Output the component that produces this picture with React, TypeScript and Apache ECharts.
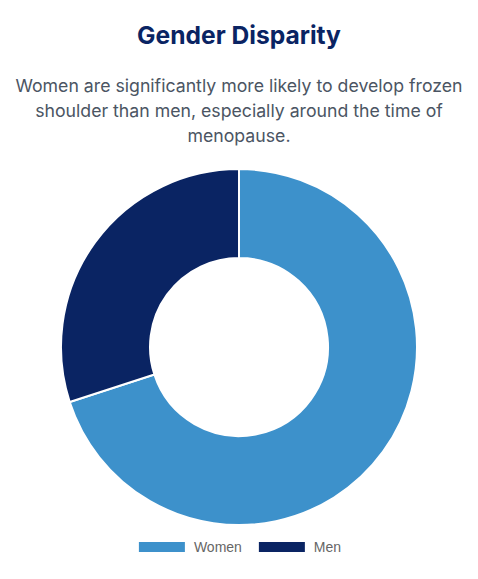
import { useEffect, useRef } from 'react';
import * as echarts from 'echarts';

// 数据
const categories = ['Women', 'Men'];
const values = [70, 30];
const colors = ['#3d91cb', '#0a2463'];

const titleText = 'Gender Disparity';
const subtitleLines = [
  'Women are significantly more likely to develop frozen',
  'shoulder than men, especially around the time of',
  'menopause.',
];

export default function App() {
  const chartRef = useRef<HTMLDivElement>(null);

  useEffect(() => {
    if (!chartRef.current) return;
    const chart = echarts.init(chartRef.current, undefined, { renderer: 'svg' });

    const option: echarts.EChartsOption = {
      animation: false,
      backgroundColor: '#ffffff',
      title: {
        text: titleText,
        left: 'center',
        top: 17,
        textStyle: {
          fontFamily: 'Inter',
          fontSize: 24.6,
          fontWeight: 700,
          color: '#0a2463',
        },
      },
      graphic: subtitleLines.map((line, i) => ({
        type: 'text',
        x: 239,
        y: 85 + i * 25,
        style: {
          text: line,
          fontFamily: 'Inter',
          fontSize: 17.7,
          fill: '#4b5563',
          textAlign: 'center',
          textVerticalAlign: 'middle',
        },
      })),
      legend: {
        bottom: 20,
        left: 'center',
        itemWidth: 48,
        itemHeight: 12,
        itemGap: 15,
        icon: 'rect',
        textStyle: {
          fontFamily: 'Liberation Sans, Arial, sans-serif',
          fontSize: 14,
          color: '#666666',
          padding: [0, 0, 0, 3],
        },
        data: categories,
      },
      series: [
        {
          type: 'pie',
          center: [239, 347],
          radius: [89, 178],
          startAngle: 90,
          clockwise: true,
          label: { show: false },
          labelLine: { show: false },
          itemStyle: {
            borderColor: '#ffffff',
            borderWidth: 2,
          },
          emphasis: { disabled: true },
          data: categories.map((name, i) => ({
            name,
            value: values[i],
            itemStyle: { color: colors[i] },
          })),
        },
      ],
    };

    chart.setOption(option);

    return () => {
      chart.dispose();
    };
  }, []);

  return (
    <div
      ref={chartRef}
      style={{ position: 'fixed', left: 0, top: 0, width: 478, height: 579 }}
    />
  );
}
